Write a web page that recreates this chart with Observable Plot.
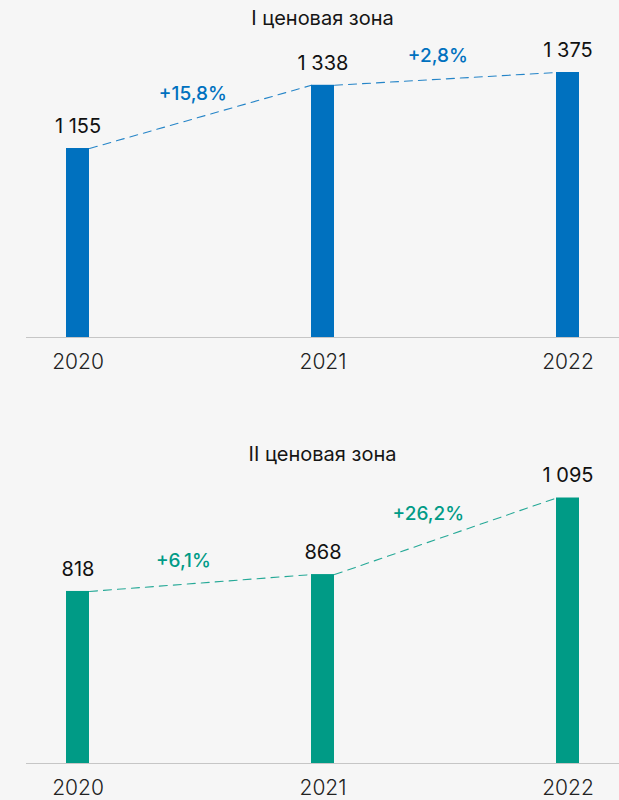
<!DOCTYPE html>
<html>
<head>
<meta charset="utf-8">
<script src="https://cdn.jsdelivr.net/npm/d3@7"></script>
<script src="https://cdn.jsdelivr.net/npm/@observablehq/plot@0.6"></script>
<style>
  html, body { margin: 0; padding: 0; background: #f6f6f6; }
  #root { width: 619px; height: 800px; overflow: hidden; background: #f6f6f6; font-family: Inter, "Noto Sans", sans-serif; }
  .title { box-sizing: border-box; height: 34px; padding-left: 26px; padding-top: 3px; line-height: 30px; text-align: center; font-size: 20px; color: #151515; }
  svg { display: block; }
</style>
</head>
<body>
<div id="root"></div>
<script>
// ---- data ----
const years = [2020, 2021, 2022];
const zone1Values = [1155, 1338, 1375];
const zone2Values = [818, 868, 1095];
const zone1Growth = ["+15,8%", "+2,8%"];
const zone2Growth = ["+6,1%", "+26,2%"];
const titles = ["I ценовая зона", "II ценовая зона"];

// ---- layout / style ----
const W = 619, ML = 26, MR = 0;
const PAD_INNER = 0.906, PAD_OUTER = 0.16;
const step = (W - ML - MR) / (years.length - PAD_INNER + 2 * PAD_OUTER);
const bandwidth = step * (1 - PAD_INNER);
const fmt = d3.formatLocale({thousands: "\u00a0", grouping: [3], decimal: ","}).format(",d");

// curve drawing each segment from the right edge of one bar to the left edge of the next
function edgeCurve(hw) {
  return function(context) {
    let pts = [];
    return {
      areaStart() {}, areaEnd() {},
      lineStart() { pts = []; },
      point(x, y) { pts.push([+x, +y]); },
      lineEnd() {
        for (let i = 0; i < pts.length - 1; i++) {
          context.moveTo(pts[i][0] + hw, pts[i][1]);
          context.lineTo(pts[i + 1][0] - hw, pts[i + 1][1]);
        }
      }
    };
  };
}

function makeChart({values, growth, color, yFloor, height, marginTop, marginBottom, pctDx, pctDy}) {
  const data = years.map((year, i) => ({year, value: values[i], label: fmt(values[i])}));
  const segs = d3.range(years.length - 1).map(i => ({
    x1: years[i], v1: values[i], v2: values[i + 1], label: growth[i]
  }));
  return Plot.plot({
    width: W, height, marginLeft: ML, marginRight: MR, marginTop, marginBottom,
    style: {background: "transparent", fontFamily: "Inter, 'Noto Sans', sans-serif", overflow: "visible"},
    x: {type: "band", domain: years, paddingInner: PAD_INNER, paddingOuter: PAD_OUTER, align: 0.5, axis: null},
    y: {domain: [yFloor, d3.max(values)], clamp: true, axis: null},
    marks: [
      Plot.line(data, {x: "year", y: "value", curve: edgeCurve(bandwidth / 2),
        stroke: color, strokeWidth: 1.1, strokeDasharray: "8,6", strokeOpacity: 0.85}),
      Plot.barY(data, {x: "year", y: "value", fill: color}),
      Plot.ruleY([yFloor], {stroke: "#c6c6c6", strokeWidth: 1.2}),
      Plot.text(data, {x: "year", y: "value", text: "label", dy: -22, fontSize: 20, fill: "#111"}),
      Plot.text(segs, {x: "x1", y: d => (d.v1 + d.v2) / 2, text: "label",
        dx: step / 2 + pctDx, dy: pctDy, fontSize: 19, fontWeight: 500, fill: color}),
      Plot.text(data, {x: "year", y: () => yFloor, text: d => String(d.year), dy: 25,
        fontSize: 21, fontWeight: 300, fill: "#222"})
    ]
  });
}

const root = document.getElementById("root");
function addTitle(t) {
  const d = document.createElement("div");
  d.className = "title";
  d.textContent = t;
  root.appendChild(d);
}

addTitle(titles[0]);
root.appendChild(makeChart({
  values: zone1Values, growth: zone1Growth, color: "#0071bf",
  yFloor: 608, height: 402, marginTop: 38, marginBottom: 99, pctDx: -8, pctDy: -23
}));
addTitle(titles[1]);
root.appendChild(makeChart({
  values: zone2Values, growth: zone2Growth, color: "#009b86",
  yFloor: 308, height: 330, marginTop: 27.5, marginBottom: 37, pctDx: -17.5, pctDy: -22.5
}));
</script>
</body>
</html>
